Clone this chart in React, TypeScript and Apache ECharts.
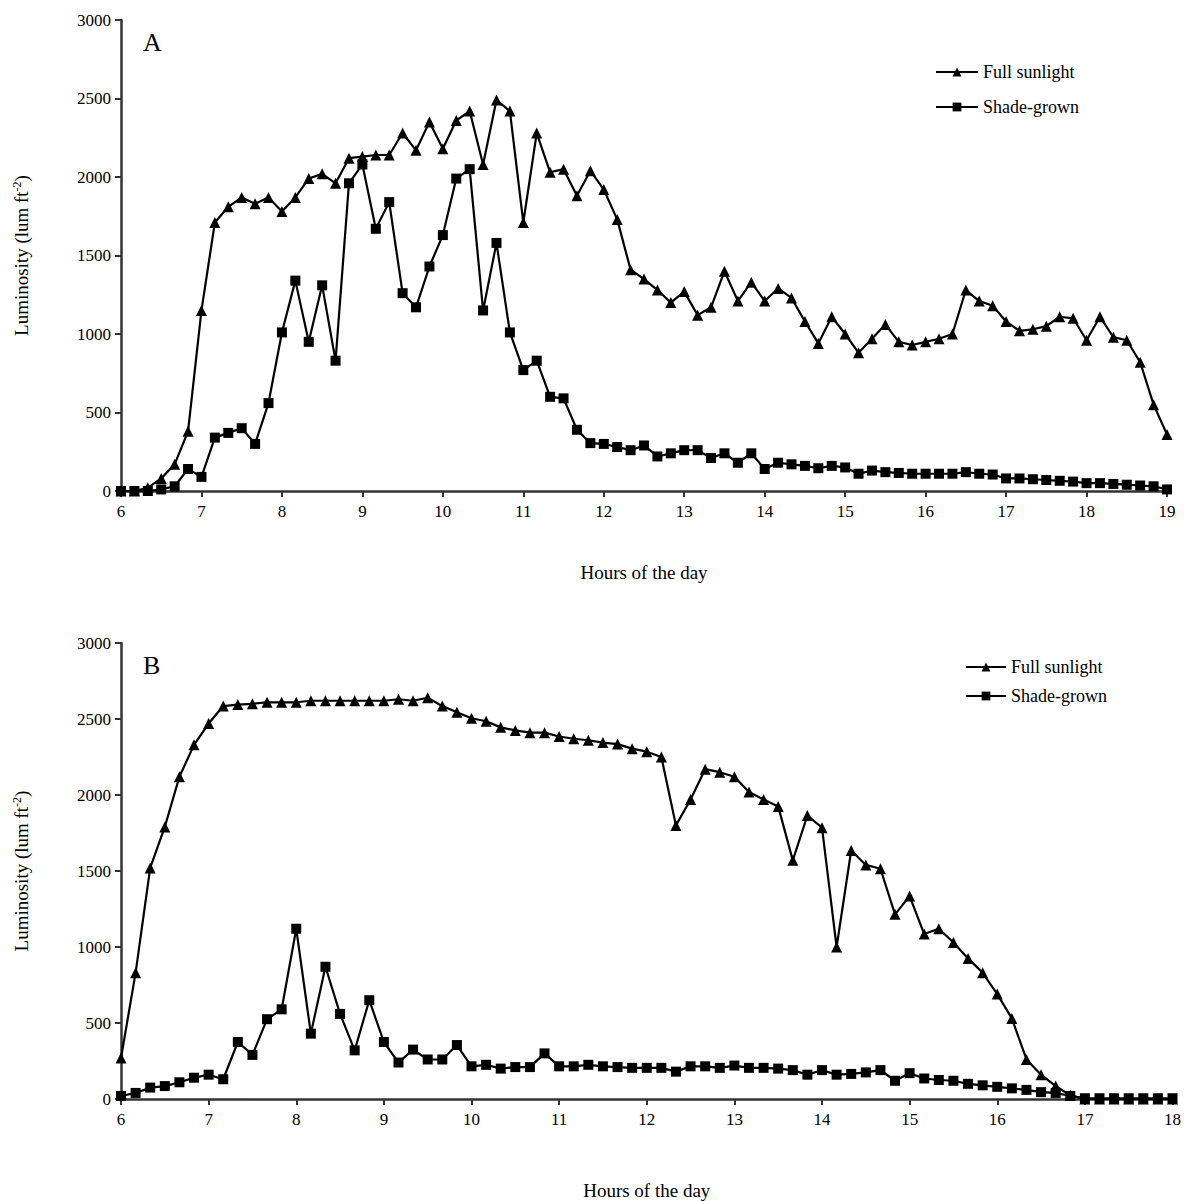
import React, { useEffect, useRef } from "react";
import * as echarts from "echarts";

// readings every 10 minutes
const sunA = [
  0, 0, 20, 80, 170, 380, 1150, 1710, 1810, 1870,
  1830, 1870, 1780, 1870, 1990, 2020, 1960, 2120, 2130, 2140,
  2140, 2280, 2170, 2350, 2180, 2360, 2420, 2080, 2490, 2420,
  1710, 2280, 2030, 2050, 1880, 2040, 1920, 1730, 1410, 1350,
  1280, 1200, 1270, 1120, 1170, 1400, 1210, 1330, 1210, 1290,
  1230, 1080, 940, 1110, 1000, 880, 970, 1060, 950, 930,
  950, 970, 1000, 1280, 1210, 1180, 1080, 1020, 1030, 1050,
  1110, 1100, 960, 1110, 980, 960, 820, 550, 360,
];
const shadeA = [
  0, 0, 0, 10, 30, 140, 90, 340, 370, 400,
  300, 560, 1010, 1340, 950, 1310, 830, 1960, 2080, 1670,
  1840, 1260, 1170, 1430, 1630, 1990, 2050, 1150, 1580, 1010,
  770, 830, 600, 590, 390, 305, 300, 280, 260, 290,
  220, 240, 260, 260, 210, 240, 180, 240, 140, 180,
  170, 160, 145, 160, 150, 110, 130, 120, 115, 110,
  110, 110, 110, 120, 110, 105, 80, 80, 75, 70,
  65, 60, 50, 50, 45, 40, 35, 30, 10,
];
const sunB = [
  270, 830, 1520, 1790, 2120, 2330, 2470, 2585, 2595, 2600,
  2610, 2610, 2610, 2620, 2620, 2620, 2620, 2620, 2620, 2630,
  2620, 2640, 2585, 2545, 2505, 2485, 2445, 2425, 2410, 2410,
  2385, 2370, 2360, 2345, 2335, 2305, 2285, 2250, 1800, 1970,
  2170, 2150, 2120, 2020, 1970, 1925, 1570, 1865, 1785, 1000,
  1635, 1540, 1515, 1215, 1335, 1085, 1120, 1030, 925, 830,
  690, 530, 260, 160, 85, 25, 0, 0, 0, 0,
  0, 0, 0,
];
const shadeB = [
  20, 40, 75, 85, 110, 140, 160, 130, 375, 290,
  525, 590, 1120, 430, 870, 560, 320, 650, 375, 240,
  325, 260, 260, 355, 215, 225, 200, 210, 210, 300,
  215, 215, 225, 215, 210, 205, 205, 205, 180, 215,
  215, 205, 220, 205, 205, 200, 190, 160, 190, 160,
  165, 175, 190, 120, 170, 135, 125, 120, 100, 90,
  80, 70, 60, 45, 40, 20, 5, 5, 5, 5,
  5, 5, 5,
];
const startHour = 6;
const stepHours = 1 / 6;

const withTime = (vals: number[]) =>
  vals.map((v, i) => [startHour + i * stepHours, v]);

const font = "Liberation Serif, Times New Roman, serif";
const axisColor = "#333";

const xAxisBase = (gridIndex: number, max: number) => ({
  type: "value" as const,
  gridIndex,
  min: 6,
  max,
  interval: 1,
  name: "Hours of the day",
  nameLocation: "middle" as const,
  nameGap: gridIndex === 0 ? 72 : 82,
  nameTextStyle: { fontFamily: font, fontSize: 19, color: "#000" },
  axisLine: { lineStyle: { color: axisColor, width: 2.5 } },
  axisTick: { lineStyle: { color: axisColor, width: 2 }, length: 6 },
  axisLabel: { fontFamily: font, fontSize: 17, color: "#000", margin: 12 },
  splitLine: { show: false },
});

const yAxisBase = (gridIndex: number) => ({
  type: "value" as const,
  gridIndex,
  min: 0,
  max: 3000,
  interval: 500,
  name: "{n|Luminosity (lum ft}{s|-2}{n|)}",
  nameLocation: "middle" as const,
  nameGap: 90,
  nameTextStyle: {
    rich: {
      n: { fontFamily: font, fontSize: 19, color: "#000" },
      s: { fontFamily: font, fontSize: 12, color: "#000", verticalAlign: "top" as const, padding: [0, 0, 8, 0] },
    },
  },
  axisLine: { show: true, lineStyle: { color: axisColor, width: 2.5 } },
  axisTick: { show: true, lineStyle: { color: axisColor, width: 2 }, length: 6 },
  axisLabel: {
    fontFamily: font, fontSize: 17, color: "#000", margin: 10,
    formatter: (v: number) => String(v),
  },
  splitLine: { show: false },
});

const lineSeries = (name: string, vals: number[], idx: number, symbol: string, size: number) => ({
  name,
  type: "line" as const,
  xAxisIndex: idx,
  yAxisIndex: idx,
  data: withTime(vals),
  symbol,
  symbolSize: size,
  showAllSymbol: true,
  itemStyle: { color: "#000" },
  lineStyle: { color: "#000", width: 2.2 },
});

const App = () => {
  const chartRef = useRef<HTMLDivElement>(null);

  useEffect(() => {
    if (!chartRef.current) return;
    const chart = echarts.init(chartRef.current, null, { renderer: "svg" });

    chart.setOption({
      animation: false,
      backgroundColor: "#fff",
      title: [
        { text: "A", left: 138, top: 24, textStyle: { fontFamily: font, fontSize: 26, fontWeight: "normal", color: "#000" } },
        { text: "B", left: 138, top: 647, textStyle: { fontFamily: font, fontSize: 26, fontWeight: "normal", color: "#000" } },
      ],
      legend: [
        {
          left: 930, top: 58, orient: "vertical", itemWidth: 42, itemHeight: 11, itemGap: 17,
          textStyle: { fontFamily: font, fontSize: 18, color: "#000" },
          data: ["Full sunlight", "Shade-grown"],
        },
        {
          left: 960, top: 653, orient: "vertical", itemWidth: 40, itemHeight: 11, itemGap: 11,
          textStyle: { fontFamily: font, fontSize: 18, color: "#000" },
          data: ["Full sunlight", "Shade-grown"],
        },
      ],
      grid: [
        { left: 121, right: 17, top: 20, height: 471 },
        { left: 121, right: 6, top: 643, height: 464 },
      ],
      xAxis: [xAxisBase(0, 19), xAxisBase(1, 18)],
      yAxis: [yAxisBase(0), yAxisBase(1)],
      series: [
        lineSeries("Full sunlight", sunA, 0, "triangle", 11),
        lineSeries("Shade-grown", shadeA, 0, "rect", 10),
        lineSeries("Full sunlight", sunB, 1, "triangle", 11),
        lineSeries("Shade-grown", shadeB, 1, "rect", 10),
      ],
    });

    return () => chart.dispose();
  }, []);

  return (
    <div
      ref={chartRef}
      style={{ position: "absolute", left: 0, top: 0, width: 1184, height: 1201 }}
    />
  );
};

export default App;
